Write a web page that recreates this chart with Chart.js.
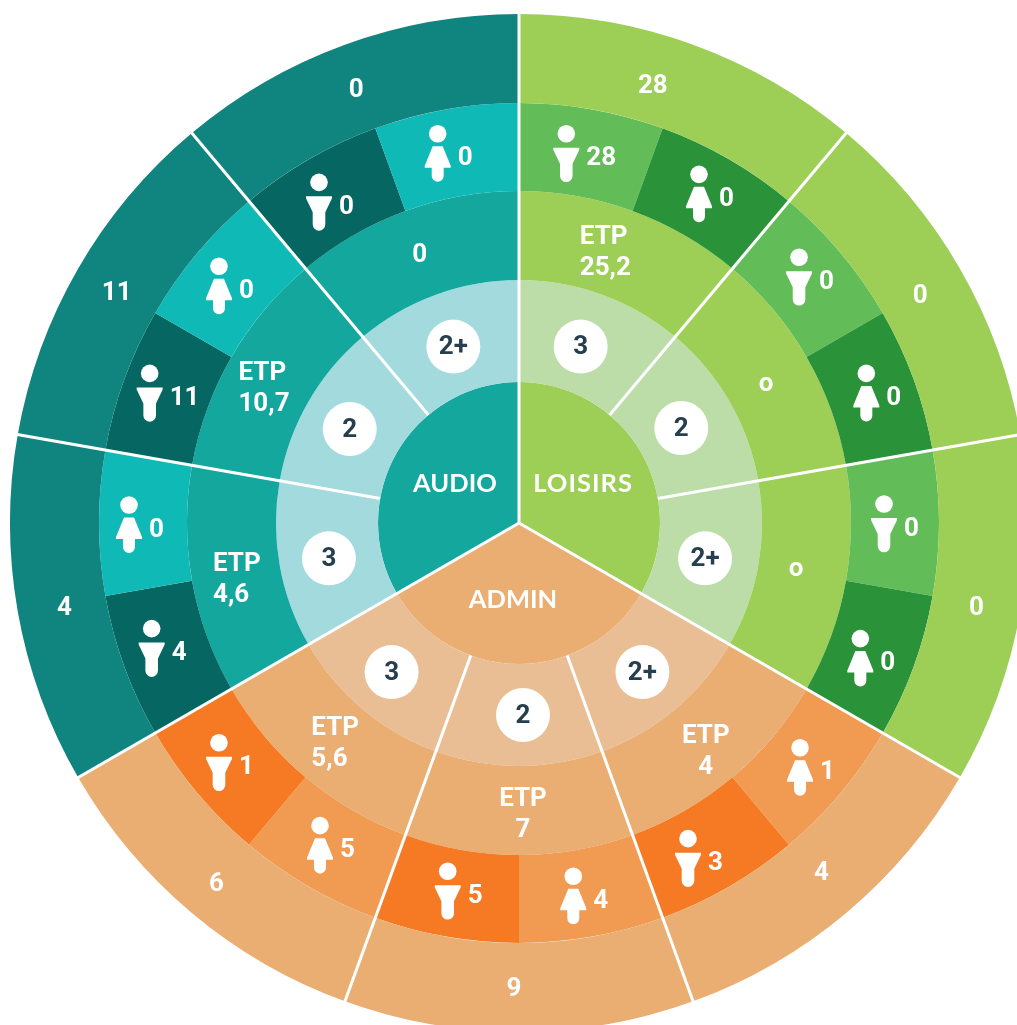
<!DOCTYPE html>
<html>
<head>
<meta charset="utf-8">
<title>Effectifs par secteur</title>
<script src="https://cdn.jsdelivr.net/npm/chart.js@4"></script>
<style>
  html, body { margin:0; padding:0; width:1017px; height:1025px; overflow:hidden; background:#fff; }
  canvas { position:absolute; left:0; top:0; }
</style>
</head>
<body>
<canvas id="wheel" width="1038" height="1046"></canvas>
<script>
// clockwise from 12 o'clock
const sectors = ['LOISIRS', 'ADMIN', 'AUDIO'];
const groupLevels = ['3', '2', '2+', '2+', '2', '3', '3', '2', '2+'];
const groupEtp = ['ETP\n25,2', 'o', 'o', 'ETP\n4', 'ETP\n7', 'ETP\n5,6', 'ETP\n4,6', 'ETP\n10,7', '0'];
const groupTotals = ['28', '0', '0', '4', '9', '6', '4', '11', '0'];
const genders = ['m','f','m','f','m','f','f','m','f','m','f','m','m','f','m','f','m','f'];
const genderCounts = ['28','0','0','0','0','0','1','3','4','5','5','1','4','0','11','0','0','0'];

const sectorSizes = [3, 3, 3];
const groupSizes = [1, 1, 1, 1, 1, 1, 1, 1, 1];
const genderSizes = genders.map(() => 0.5);

const GREEN = { main:'#9DCE55', light:'#BCDDA8', m:'#62BC58', f:'#2A9239' };
const ORANGE = { main:'#EAAD72', light:'#EABE94', m:'#F57A23', f:'#F09A52' };
const TEAL = { main:'#13A79E', outer:'#10847E', light:'#A2DADD', m:'#056662', f:'#0FB9B5' };

const sectorOf = i => [GREEN, ORANGE, TEAL][Math.floor(i / 3)];
const groupOuter = groupSizes.map((_, i) => sectorOf(i).outer || sectorOf(i).main);
const groupMain = groupSizes.map((_, i) => sectorOf(i).main);
const groupLight = groupSizes.map((_, i) => sectorOf(i).light);
const genderColors = genders.map((g, i) => sectorOf(Math.floor(i / 2))[g]);
const sectorColors = [GREEN.main, ORANGE.main, TEAL.main];

// hand placement of the labels, relative to the middle of each slice
const iconNudge = [[-18,-19],[-8,-23],[-8,-24],[-6,-21],[-11,-19],[-12,-13],[-7,-17],[-19,-10],[-11,-17],
                   [-6,-22],[-11,-23],[-12,-22],[-14,-23],[-14,-18],[-16,-21],[-12,-15],[-12,-15],[-16,-19]];
const totalNudge = [[-25,-2],[-1,4],[0,3],[4,-7],[-5,0],[-4,4],[3,3],[0,1],[-4,2]];
const etpNudge = [[-12,-2],[-2,3],[-6,-5],[2,7],[4,2],[1,-1],[1,5],[-6,8],[-1,1]];
const levelNudge = [[-4,4],[-4,1],[-3,2],[0,2],[4,0],[-4,2],[-1,2],[-3,2],[0,4]];
const sectorNudge = [[3,-5],[-6,5],[-3,-5]];

const NUM_FONT = '700 26px Roboto';
const NAME_FONT = '700 25.5px Lato';

function drawIcon(ctx, x, y, kind){
  // x,y = centre of the head
  ctx.fillStyle = '#fff';
  ctx.beginPath();
  ctx.arc(x, y, 8.8, 0, Math.PI * 2);
  ctx.fill();
  ctx.beginPath();
  if (kind === 'f'){
    ctx.moveTo(x - 5, y + 12.5);
    ctx.lineTo(x + 5, y + 12.5);
    ctx.lineTo(x + 13, y + 32);
    ctx.lineTo(x + 13, y + 34);
    ctx.lineTo(x + 6, y + 34);
    ctx.lineTo(x + 6, y + 42);
    ctx.arc(x, y + 42, 6, 0, Math.PI);
    ctx.lineTo(x - 6, y + 34);
    ctx.lineTo(x - 13, y + 34);
    ctx.lineTo(x - 13, y + 32);
  } else {
    ctx.moveTo(x - 13, y + 14);
    ctx.lineTo(x + 13, y + 14);
    ctx.lineTo(x + 13, y + 16);
    ctx.lineTo(x + 6.3, y + 30);
    ctx.lineTo(x + 6.3, y + 42);
    ctx.arc(x, y + 42, 6.3, 0, Math.PI);
    ctx.lineTo(x - 6.3, y + 30);
    ctx.lineTo(x - 13, y + 16);
  }
  ctx.closePath();
  ctx.fill();
}

const wheelDecor = {
  id: 'wheelDecor',
  afterDatasetsDraw(chart){
    const ctx = chart.ctx;
    const rings = [0, 1, 2, 3, 4].map(i => chart.getDatasetMeta(i).data);
    const [outerArcs, genderArcs, etpArcs, levelArcs, centerArcs] = rings;
    const cx = outerArcs[0].x, cy = outerArcs[0].y;
    ctx.save();

    // white separators, taken from the slice edges
    ctx.strokeStyle = '#fff';
    ctx.lineWidth = 3;
    outerArcs.forEach((arc, i) => {
      const from = i % 3 === 0 ? 0 : levelArcs[i].innerRadius;
      const a = arc.startAngle;
      ctx.beginPath();
      ctx.moveTo(cx + Math.cos(a) * from, cy + Math.sin(a) * from);
      ctx.lineTo(cx + Math.cos(a) * (arc.outerRadius + 2), cy + Math.sin(a) * (arc.outerRadius + 2));
      ctx.stroke();
    });

    ctx.textAlign = 'center';
    ctx.textBaseline = 'middle';

    // outer totals
    ctx.font = NUM_FONT;
    ctx.fillStyle = '#fff';
    outerArcs.forEach((arc, i) => {
      const p = arc.getCenterPoint();
      ctx.fillText(groupTotals[i], p.x + totalNudge[i][0], p.y + 2 + totalNudge[i][1]);
    });

    // ETP ring, the decimal ones are flush left under "ETP"
    etpArcs.forEach((arc, i) => {
      const p = arc.getCenterPoint();
      const x = p.x + etpNudge[i][0];
      const y = p.y + 2 + etpNudge[i][1];
      const lines = groupEtp[i].split('\n');
      const flush = groupEtp[i].includes(',');
      const w = Math.max(...lines.map(l => ctx.measureText(l).width));
      lines.forEach((line, k) => {
        const lx = flush ? x - w / 2 + ctx.measureText(line).width / 2 : x;
        ctx.fillText(line, lx, y + (k - (lines.length - 1) / 2) * 31);
      });
    });

    // level badges
    levelArcs.forEach((arc, i) => {
      const p = arc.getCenterPoint();
      const x = p.x + levelNudge[i][0];
      const y = p.y + levelNudge[i][1];
      ctx.fillStyle = '#fff';
      ctx.beginPath();
      ctx.arc(x, y, 27, 0, Math.PI * 2);
      ctx.fill();
      ctx.fillStyle = '#263F4E';
      ctx.fillText(groupLevels[i], x, y + 1);
    });

    // people icons with their counts
    genderArcs.forEach((arc, i) => {
      const p = arc.getCenterPoint();
      const hx = p.x + iconNudge[i][0];
      const hy = p.y + iconNudge[i][1];
      drawIcon(ctx, hx, hy, genders[i]);
      ctx.fillStyle = '#fff';
      ctx.textAlign = 'left';
      ctx.fillText(genderCounts[i], hx + 20, hy + 25);
      ctx.textAlign = 'center';
    });

    // sector names
    ctx.font = NAME_FONT;
    centerArcs.forEach((arc, i) => {
      const p = arc.getCenterPoint();
      ctx.letterSpacing = sectors[i] === 'LOISIRS' ? '1px' : '0px';
      ctx.fillText(sectors[i], p.x + sectorNudge[i][0], p.y + 1 + sectorNudge[i][1]);
    });
    ctx.restore();
  }
};

new Chart(document.getElementById('wheel').getContext('2d'), {
  type: 'doughnut',
  data: {
    datasets: [
      { data: groupSizes, backgroundColor: groupOuter, borderWidth: 0, weight: 89 },
      { data: genderSizes, backgroundColor: genderColors, borderWidth: 0, weight: 88 },
      { data: groupSizes, backgroundColor: groupMain, borderWidth: 0, weight: 89 },
      { data: groupSizes, backgroundColor: groupLight, borderWidth: 0, weight: 102 },
      { data: sectorSizes, backgroundColor: sectorColors, borderWidth: 0, weight: 141 }
    ]
  },
  options: {
    responsive: false,
    animation: false,
    cutout: 0,
    layout: { padding: 10 },
    plugins: { legend: { display: false }, tooltip: { enabled: false } }
  },
  plugins: [wheelDecor]
});
</script>
</body>
</html>
